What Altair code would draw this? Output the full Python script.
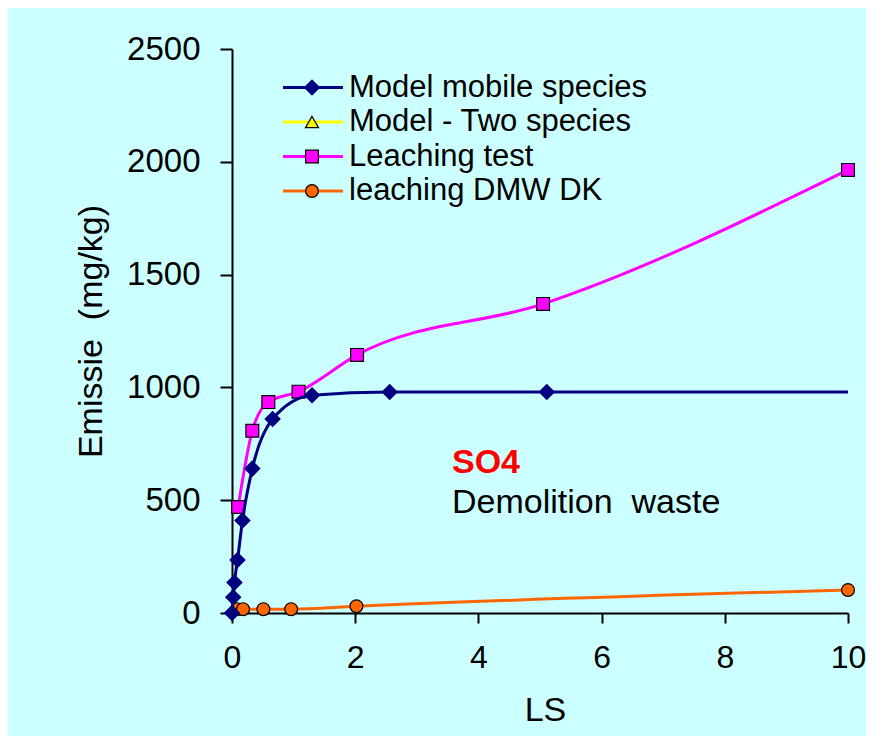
import altair as alt
import pandas as pd

# ---- data ----
series_names = ["Model mobile species", "Model - Two species", "Leaching test", "leaching DMW DK"]
series_colors = ["#000080", "#FFFF00", "#FF00FF", "#FF6600"]
series_shapes = ["diamond", "triangle-up", "square", "circle"]
marker_strokes = ["#000080", "#000000", "#000000", "#000000"]
marker_sizes = [220, 170, 165, 165]

model_x = [0, 0.02, 0.04, 0.09, 0.17, 0.33, 0.66, 1.30, 2.56, 5.11, 10]
model_y = [0, 70, 135, 235, 410, 640, 860, 965, 980, 980, 980]
model_markers = 10  # last point (LS=10) drawn without a marker

test_x = [0.10, 0.33, 0.59, 1.08, 2.03, 5.05, 10]
test_y = [470, 808, 935, 981, 1144, 1370, 1964]

dk_x = [0.08, 0.18, 0.51, 0.96, 2.02, 10]
dk_y = [17, 17, 17, 17, 30, 102]

x_ticks = [0, 2, 4, 6, 8, 10]
y_ticks = [0, 500, 1000, 1500, 2000, 2500]

x_title = "LS"
y_title = "Emissie\u00a0 (mg/kg)"
note_species = "SO4"
note_material = "Demolition\u00a0 waste"

# ---- layout ----
W, H = 616, 564
FONT = "Liberation Sans"
BG = "#CCFFFF"

xs = alt.Scale(domain=[0, 10], nice=False, zero=False)
ys = alt.Scale(domain=[0, 2500], nice=False, zero=False)

xaxis = alt.Axis(values=x_ticks, title=x_title, grid=False, format="d", labelFont=FONT, labelFontSize=32,
                 labelColor="black", labelPadding=19, tickSize=10, tickWidth=2, tickColor="black",
                 domainColor="black", domainWidth=2, labelFlush=False, labelOverlap=False,
                 titleFont=FONT, titleFontSize=34, titleFontWeight="normal", titleColor="black",
                 titleX=313, titleY=107, titleBaseline="alphabetic", titleAlign="center")
yaxis = alt.Axis(values=y_ticks, title=y_title, grid=False, format="d", labelFont=FONT, labelFontSize=33,
                 labelColor="black", labelPadding=20, tickSize=12, tickWidth=2, tickColor="black",
                 domainColor="black", domainWidth=2, labelFlush=False, labelOverlap=False,
                 titleFont=FONT, titleFontSize=34, titleFontWeight="normal", titleColor="black",
                 titleX=-131, titleY=282, titleBaseline="alphabetic", titleAlign="center",
                 titleAngle=270)


def series(xv, yv, i, n_markers):
    df = pd.DataFrame({"x": xv, "y": yv})
    enc = dict(x=alt.X("x:Q", scale=xs, axis=xaxis), y=alt.Y("y:Q", scale=ys, axis=yaxis))
    line = alt.Chart(df).mark_line(color=series_colors[i], strokeWidth=3,
                                   interpolate="monotone").encode(**enc)
    pts = alt.Chart(df.iloc[:n_markers]).mark_point(
        shape=series_shapes[i], filled=True, fill=series_colors[i], stroke=marker_strokes[i],
        strokeWidth=1.2, size=marker_sizes[i], opacity=1).encode(**enc)
    return [line, pts]


layers = []
layers += series(dk_x, dk_y, 3, len(dk_x))
layers += series(test_x, test_y, 2, len(test_x))
layers += series(model_x, model_y, 0, model_markers)

# ---- legend (drawn inside the plot) ----
for i, name in enumerate(series_names):
    ry = 38.5 + 34.5 * i
    d = pd.DataFrame({"name": [name]})
    layers.append(alt.Chart(d).mark_rule(color=series_colors[i], strokeWidth=3).encode(
        x=alt.value(51), x2=alt.value(111), y=alt.value(ry)))
    layers.append(alt.Chart(d).mark_point(
        shape=series_shapes[i], filled=True, fill=series_colors[i], stroke=marker_strokes[i],
        strokeWidth=1.2, size=marker_sizes[i], opacity=1).encode(
        x=alt.value(80), y=alt.value(ry)))
    layers.append(alt.Chart(d).mark_text(align="left", baseline="alphabetic", font=FONT,
                                         fontSize=31, color="black").encode(
        x=alt.value(117), y=alt.value(ry + 9), text="name:N"))

# ---- annotation ----
notes = pd.DataFrame({"t": [note_species]})
layers.append(alt.Chart(notes).mark_text(align="left", baseline="alphabetic", font=FONT,
                                         fontSize=34, fontWeight="bold", color="#FF0000").encode(
    x=alt.value(220), y=alt.value(424), text="t:N"))
notes2 = pd.DataFrame({"t": [note_material]})
layers.append(alt.Chart(notes2).mark_text(align="left", baseline="alphabetic", font=FONT,
                                          fontSize=34, color="black").encode(
    x=alt.value(220), y=alt.value(464), text="t:N"))

chart = alt.layer(*layers).properties(
    width=W, height=H,
    autosize=alt.AutoSizeParams(type="none"),
    padding={"left": 224, "top": 41, "right": 18, "bottom": 123},
    background=BG,
).configure_view(stroke=None)

chart.save("out.html", embed_options={"renderer": "svg", "actions": False})
